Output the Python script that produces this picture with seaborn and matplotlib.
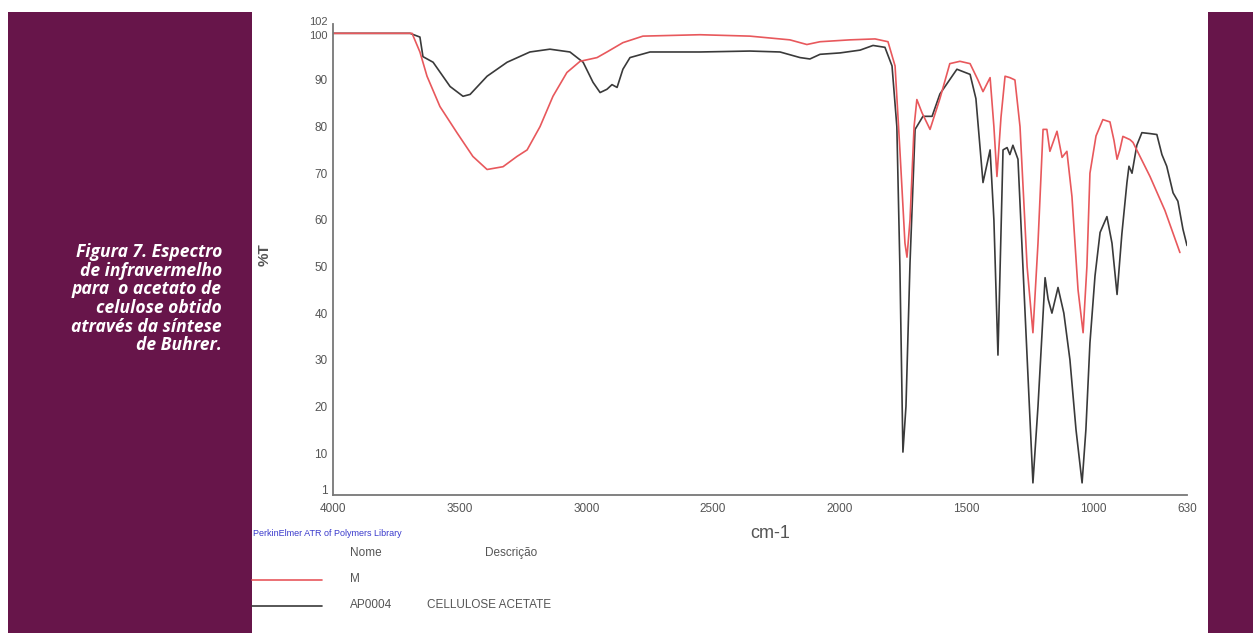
import matplotlib
matplotlib.use("Agg")
import matplotlib.pyplot as plt
import matplotlib.transforms as mtransforms
from matplotlib.patches import Rectangle
from matplotlib.lines import Line2D
import seaborn as sns
import pandas as pd

# ---- data ----
wn_m = [4000, 3696, 3688, 3657, 3629, 3578, 3511, 3448, 3392, 3329, 3274, 3234, 3183, 3132,
        3077, 3025, 2958, 2919, 2856, 2777, 2552, 2355, 2197, 2130, 2078, 1960, 1861, 1810,
        1782, 1763, 1743, 1735, 1723, 1707, 1696, 1676, 1644, 1605, 1566, 1526, 1486, 1455,
        1435, 1407, 1392, 1380, 1364, 1348, 1329, 1309, 1289, 1261, 1238, 1218, 1198, 1183,
        1171, 1143, 1123, 1104, 1084, 1060, 1040, 1025, 1013, 989, 962, 934, 918, 906, 895,
        883, 855, 843, 776, 717, 658]
t_m = [100, 100, 100, 96, 90.8, 84.3, 78.7, 73.6, 70.8, 71.4, 73.6, 75, 80, 86.5,
       91.6, 94, 94.8, 96, 98, 99.4, 99.7, 99.4, 98.6, 97.6, 98.2, 98.6, 98.8, 98.2,
       93, 75, 55, 52, 60, 80, 85.8, 83, 79.4, 86, 93.5, 94, 93.5, 90,
       87.5, 90.5, 80, 69.3, 82, 90.8, 90.5, 90, 80, 50, 35.8, 55, 79.4, 79.4,
       74.7, 79, 73.4, 74.7, 65, 45, 35.8, 50, 70, 78, 81.5, 81, 77, 73, 75,
       77.9, 77.2, 76.6, 69.3, 62, 53]

wn_ca = [4000, 3696, 3657, 3645, 3605, 3538, 3487, 3459, 3392, 3313, 3223, 3144, 3065, 3013,
         2974, 2946, 2919, 2899, 2879, 2856, 2828, 2749, 2552, 2355, 2236, 2157, 2118, 2078,
         1999, 1920, 1869, 1822, 1794, 1775, 1763, 1751, 1739, 1723, 1703, 1672, 1636, 1605,
         1538, 1486, 1463, 1447, 1435, 1407, 1392, 1376, 1356, 1340, 1329, 1317, 1297, 1269,
         1238, 1218, 1190, 1178, 1163, 1139, 1116, 1092, 1068, 1044, 1029, 1013, 993, 973,
         946, 926, 906, 887, 867, 859, 847, 828, 808, 776, 749, 729, 710, 685, 666, 646, 630]
t_ca = [100, 100, 99.2, 95, 93.8, 88.6, 86.5, 86.9, 90.8, 93.8, 96, 96.6, 96, 93.8,
        89.5, 87.3, 88, 89, 88.4, 92.3, 94.8, 96, 96, 96.2, 96, 94.8, 94.5, 95.5,
        95.8, 96.4, 97.4, 97, 93, 80, 50, 10.2, 20, 50.8, 79.4, 82.2, 82.2, 87,
        92.3, 91.2, 86, 75.7, 68, 75, 60, 31, 75, 75.5, 74, 76, 73, 40,
        3.6, 20, 47.6, 43, 40, 45.5, 40, 30, 15, 3.6, 15, 33.6, 48, 57.3,
        60.7, 55, 44, 57, 68, 71.5, 70, 76, 78.7, 78.5, 78.3, 74, 71.5, 65.8, 64, 58, 54.5]

x_ticks = [4000, 3500, 3000, 2500, 2000, 1500, 1000, 630]
y_ticks = [1, 10, 20, 30, 40, 50, 60, 70, 80, 90, 100, 102]

caption_lines = ["Figura 7. Espectro", "de infravermelho", "para  o acetato de",
                 "celulose obtido", "através da síntese", "de Buhrer."]

RED = "#e8585c"
DARK = "#3a3a3a"
PURPLE = "#67154a"
GRAY = "#555555"

sns.set_style("white")
plt.rcParams['font.family'] = ['Liberation Sans', 'DejaVu Sans']

W, H = 1253, 633
fig = plt.figure(figsize=(W / 100, H / 100), dpi=100)
fig.patch.set_facecolor("white")

# purple side panels
fig.patches.append(Rectangle((8 / W, 0), 244 / W, (H - 12) / H, transform=fig.transFigure,
                             facecolor=PURPLE, edgecolor="none", zorder=0))
fig.patches.append(Rectangle((1208 / W, 0), 45 / W, (H - 12) / H, transform=fig.transFigure,
                             facecolor=PURPLE, edgecolor="none", zorder=0))

ax = fig.add_axes([333 / W, 1 - 495 / H, (1187 - 333) / W, (495 - 24) / H])
ax.set_facecolor("none")

df_m = pd.DataFrame({"wn": wn_m, "T": t_m})
df_ca = pd.DataFrame({"wn": wn_ca, "T": t_ca})
sns.lineplot(data=df_ca, x="wn", y="T", sort=False, color=DARK, lw=1.2, ax=ax)
sns.lineplot(data=df_m, x="wn", y="T", sort=False, color=RED, lw=1.2, ax=ax)

ax.set_xlim(4000, 630)
ax.set_ylim(1, 102)
ax.set_xticks(x_ticks)
ax.set_xticklabels([str(v) for v in x_ticks])
ax.set_yticks(y_ticks)
ax.set_yticklabels([str(v) for v in y_ticks])
for s in ["top", "right"]:
    ax.spines[s].set_visible(False)
for s in ["left", "bottom"]:
    ax.spines[s].set_color("#777777")
    ax.spines[s].set_linewidth(1.3)
ax.tick_params(axis="x", direction="in", length=4, color="#777777", labelsize=8.5,
               labelcolor=GRAY, pad=6)
ax.tick_params(axis="y", direction="out", length=3, color="#777777", labelsize=8.5,
               labelcolor=GRAY, pad=1)
ax.set_xlabel("")
ax.set_ylabel("")

# nudge the crowded y labels like in the reference (102 up, 1 up above 4000)
ylabels = ax.get_yticklabels()
ylabels[-1].set_transform(ylabels[-1].get_transform() +
                          mtransforms.ScaledTranslation(0, 3 / 100, fig.dpi_scale_trans))
ylabels[-1].set_fontsize(8)
ylabels[-2].set_fontsize(8)
ylabels[-2].set_transform(ylabels[-2].get_transform() +
                          mtransforms.ScaledTranslation(0, -2 / 100, fig.dpi_scale_trans))
ylabels[0].set_transform(ylabels[0].get_transform() +
                         mtransforms.ScaledTranslation(0, 5 / 100, fig.dpi_scale_trans))

# axis titles
fig.text(770 / W, 1 - 533 / H, "cm-1", fontsize=13, color=GRAY, ha="center", va="center")
fig.text(265 / W, 1 - 255 / H, "%T", fontsize=11, color=GRAY, ha="center", va="center",
         rotation=90, fontweight="bold")

# footer texts
fig.text(253 / W, 1 - 534 / H, "PerkinElmer ATR of Polymers Library", fontsize=6.5,
         color="#3a3acc", ha="left", va="center")
fig.text(350 / W, 1 - 553 / H, "Nome", fontsize=8.5, color=GRAY, ha="left", va="center")
fig.text(485 / W, 1 - 553 / H, "Descrição", fontsize=8.5, color=GRAY, ha="left", va="center")
fig.lines.append(Line2D([252 / W, 322 / W], [1 - 580 / H, 1 - 580 / H], transform=fig.transFigure,
                        color=RED, lw=1.2))
fig.lines.append(Line2D([252 / W, 322 / W], [1 - 606 / H, 1 - 606 / H], transform=fig.transFigure,
                        color=DARK, lw=1.2))
fig.text(350 / W, 1 - 579 / H, "M", fontsize=8.5, color=GRAY, ha="left", va="center")
fig.text(350 / W, 1 - 605 / H, "AP0004", fontsize=8.5, color=GRAY, ha="left", va="center")
fig.text(427 / W, 1 - 605 / H, "CELLULOSE ACETATE", fontsize=8.5, color=GRAY, ha="left",
         va="center")

# caption
y0 = 252
for i, line in enumerate(caption_lines):
    fig.text(222 / W, 1 - (y0 + i * 18.7) / H, line, fontsize=12.6, color="white",
             ha="right", va="center", family=["Open Sans", "DejaVu Sans"],
             fontweight="bold", fontstyle="italic")

fig.savefig("out.png", dpi=100, facecolor="white")
